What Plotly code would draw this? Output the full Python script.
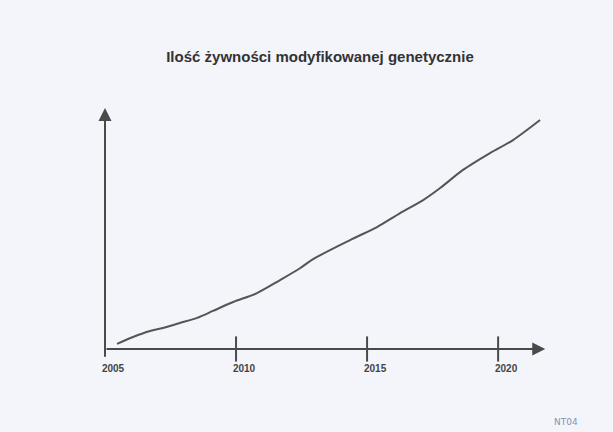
import plotly.graph_objects as go

# Data (relative units, axis top = 100)
years = [2005.46, 2006.07, 2006.72, 2007.21, 2007.86, 2008.51, 2009.12, 2009.89,
         2010.80, 2011.68, 2012.44, 2012.94, 2014.35, 2015.38, 2016.26, 2017.14,
         2017.79, 2018.66, 2019.69, 2020.57, 2021.60]
amount = [2.1, 5.0, 7.5, 8.7, 10.8, 12.9, 15.8, 19.5, 23.2, 28.6, 33.5, 37.3,
          45.2, 50.6, 56.4, 61.8, 66.8, 74.3, 81.3, 86.7, 95.0]
tick_years = [2010, 2015, 2020]
tick_labels = ["2005", "2010", "2015", "2020"]
label_years = [2005, 2010, 2015, 2020]
title = "Ilość żywności modyfikowanej genetycznie"

X_MIN, X_MAX = 2005, 2021.98
X_ARROW = 2021.8
Y_MIN, Y_MAX = 0, 100

AX = "#4a4a4a"
BG = "#f4f4fb"

fig = go.Figure()

fig.add_trace(go.Scatter(
    x=years, y=amount, mode="lines",
    line=dict(color="#555555", width=2, shape="spline", smoothing=0.8),
    hoverinfo="skip", showlegend=False,
))

# crossing tick marks on the x axis
fig.add_trace(go.Scatter(
    x=tick_years, y=[0] * len(tick_years), mode="markers",
    marker=dict(symbol="line-ns-open", size=18, color=AX,
                line=dict(color=AX, width=2)),
    hoverinfo="skip", showlegend=False, cliponaxis=False,
))

# axes as arrows
fig.add_annotation(x=X_ARROW, y=0, ax=X_MIN, ay=0, xref="x", yref="y",
                   axref="x", ayref="y", showarrow=True, arrowhead=2,
                   arrowsize=1.3, arrowwidth=2, arrowcolor=AX, text="",
                   standoff=0, startstandoff=0)
fig.add_annotation(x=X_MIN, y=Y_MAX, ax=X_MIN, ay=-3.8, xref="x", yref="y",
                   axref="x", ayref="y", showarrow=True, arrowhead=2,
                   arrowsize=1.3, arrowwidth=2, arrowcolor=AX, text="",
                   standoff=0, startstandoff=0)

fig.add_annotation(x=1.0, y=-0.02, xref="paper", yref="paper",
                   xanchor="right", yanchor="top", showarrow=False,
                   text="NT04", font=dict(family="DejaVu Sans", size=9, color="#8a90b8"),
                   xshift=30, yshift=-61)

fig.update_layout(
    width=613, height=432,
    paper_bgcolor=BG, plot_bgcolor=BG,
    margin=dict(l=105, r=63, t=108, b=83),
    title=dict(text="<b>" + title + "</b>", x=320 / 613, xanchor="center",
               y=1 - 57 / 432, yanchor="middle",
               font=dict(family="Liberation Sans, Arial", size=15, color="#333333")),
    xaxis=dict(range=[X_MIN, X_MAX], showgrid=False, zeroline=False,
               showline=False, tickvals=label_years, ticktext=tick_labels,
               ticks="outside", ticklen=10, tickcolor="rgba(0,0,0,0)",
               ticklabelshift=8,
               tickfont=dict(family="Liberation Sans, Arial", size=10,
                             color="#444444", weight="bold")),
    yaxis=dict(range=[Y_MIN, Y_MAX], showgrid=False, zeroline=False,
               showline=False, showticklabels=False, ticks=""),
)

fig.write_html("out.html")
